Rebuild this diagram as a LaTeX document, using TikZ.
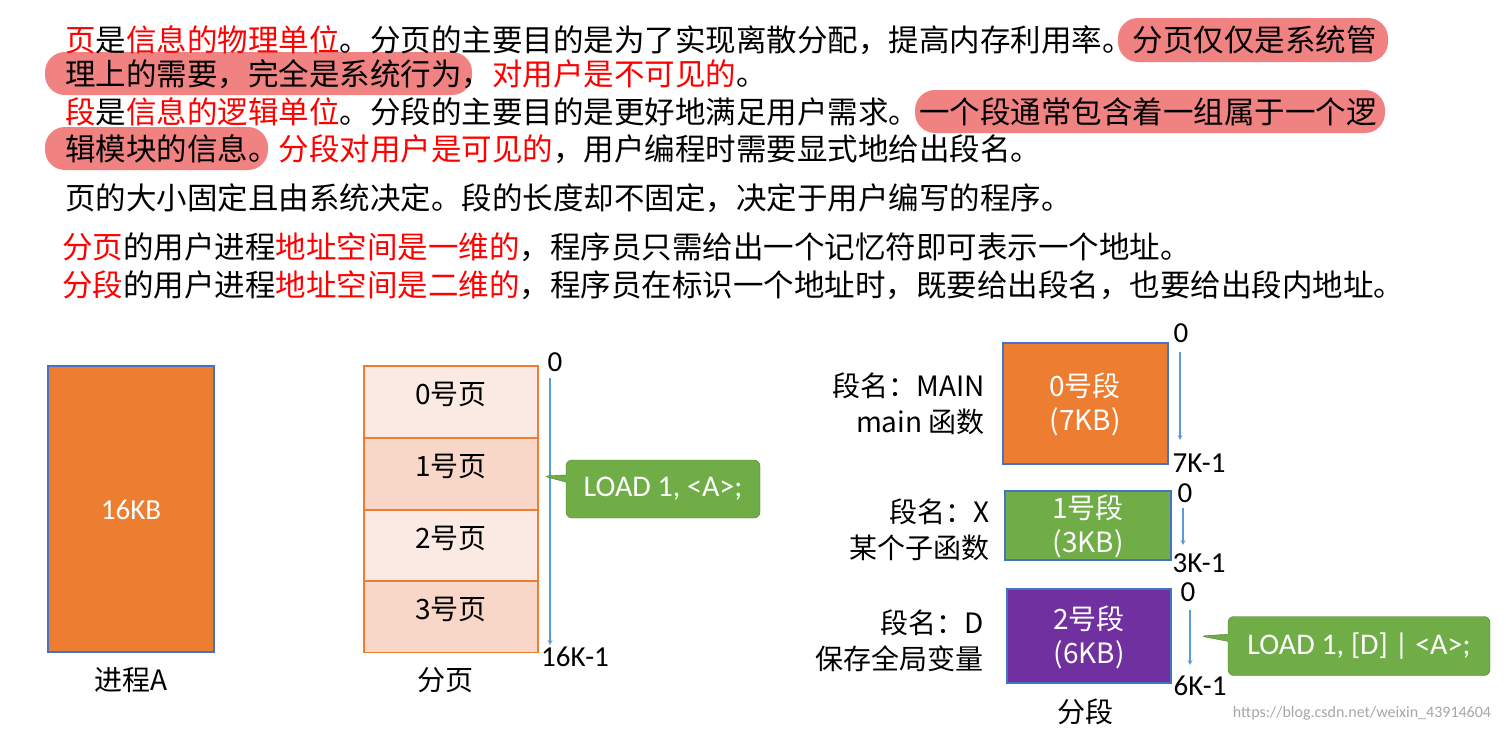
\documentclass[tikz,border=0pt]{standalone}
\usepackage{fontspec}
\setmainfont{Carlito}
\newfontfamily\cjk{Noto Sans CJK SC}
\usetikzlibrary{shapes.callouts}
\definecolor{hl}{RGB}{240,130,130}
\definecolor{rd}{RGB}{255,0,0}
\definecolor{org}{RGB}{237,125,49}
\definecolor{grn}{RGB}{112,173,71}
\definecolor{pur}{RGB}{112,48,160}
\definecolor{bl}{RGB}{91,155,213}
\definecolor{bd}{RGB}{68,114,196}
\newcommand{\R}[1]{\textcolor{rd}{#1}}
\begin{document}
\begin{tikzpicture}[x=1pt,y=-1pt,
  txt/.style={anchor=west,inner sep=0pt,font=\cjk\fontsize{30.5}{36}\selectfont},
  lab/.style={inner sep=0pt,font=\cjk\fontsize{28}{34}\selectfont},
  num/.style={inner sep=0pt,font=\fontsize{29}{34}\selectfont},
  hlb/.style={fill=hl,rounded corners=20pt},
  box/.style={draw=bd,line width=1.2pt},
  arr/.style={draw=bl,line width=1.2pt,-stealth},
  call/.style={rectangle callout,fill=grn,draw=grn!70!black,rounded corners=6pt,text=white,font=\fontsize{30}{34}\selectfont,inner xsep=10pt,inner ysep=0pt}]
\useasboundingbox (0,0) rectangle (1506,731);
\fill[hlb] (1118,18) rectangle (1388,62);
\fill[hlb] (45,52) rectangle (472,95);
\fill[hlb] (915,90) rectangle (1385,133);
\fill[hlb] (45,127) rectangle (268,170);
\node[txt] (l1) at (65,40) {\R{页}是\R{信息的物理单位}。分页的主要目的是为了实现离散分配，提高内存利用率。分页仅仅是系统管};
\node[txt] (l2) at (65,74) {理上的需要，完全是系统行为，\R{对用户是不可见的}。};
\node[txt] (l3) at (65,112) {\R{段}是\R{信息的逻辑单位}。分段的主要目的是更好地满足用户需求。一个段通常包含着一组属于一个逻};
\node[txt] (l4) at (65,149) {辑模块的信息。\R{分段对用户是可见的}，用户编程时需要显式地给出段名。};
\node[txt] (l5) at (65,198) {页的大小固定且由系统决定。段的长度却不固定，决定于用户编写的程序。};
\node[txt] (l6) at (62,247) {\R{分页}的用户进程\R{地址空间是一维的}，程序员只需给出一个记忆符即可表示一个地址。};
\node[txt] (l7) at (62,285) {\R{分段}的用户进程\R{地址空间是二维的}，程序员在标识一个地址时，既要给出段名，也要给出段内地址。};
% process A
\draw[box,fill=org] (48,366) rectangle (214,652);
\node[num,text=white] (a) at (131,510) {16KB};
\node[lab] (al) at (131,680) {进程A};
% paging
\foreach \i/\y/\c in {0/366/{251,234,228},1/438/{248,215,200},2/510/{251,234,228},3/581/{248,215,200}}{
  \definecolor{cc}{RGB}{\c}
  \draw[draw=org,fill=cc,line width=1.2pt] (364,\y) rectangle (538,\y+71.5);
  \node[lab] (p\i) at (451,\y+28) {\i 号页};
}
\node[num] (p0t) at (555,362) {0};
\node[num] (p0b) at (575,657) {16K-1};
\coordinate (pa) at (550,378); \coordinate (pb) at (550,645);
\draw[arr] (pa) -- (pb);
\node[lab] (pl) at (445,680) {分页};
\node[call,minimum width=194pt,minimum height=58pt,callout absolute pointer={(543,476)}] (c1) at (663,489) {LOAD 1, <A>;};
% segments
\draw[box,fill=org] (1003,343) rectangle (1168,464);
\node[lab,text=white,align=center] (s0) at (1085,404) {0号段\\(7KB)};
\node[lab,anchor=east] (s0a) at (985,386) {段名：MAIN};
\node[lab,anchor=east] (s0b) at (985,422) {main 函数};
\node[num] (s0t) at (1181,333) {0};
\node[num] (s0e) at (1199,463) {7K-1};
\coordinate (s0p) at (1180,352); \coordinate (s0q) at (1180,440);
\draw[arr] (s0p) -- (s0q);

\draw[box,fill=grn] (1005,491) rectangle (1171,560);
\node[lab,text=white,align=center] (s1) at (1088,526) {1号段\\(3KB)};
\node[lab,anchor=east] (s1a) at (990,512) {段名：X};
\node[lab,anchor=east] (s1b) at (990,548) {某个子函数};
\node[num] (s1t) at (1185,493) {0};
\node[num] (s1e) at (1199,563) {3K-1};
\coordinate (s1p) at (1183,508); \coordinate (s1q) at (1183,545);
\draw[arr] (s1p) -- (s1q);

\draw[box,fill=pur] (1007,589) rectangle (1171,683);
\node[lab,text=white,align=center] (s2) at (1089,637) {2号段\\(6KB)};
\node[lab,anchor=east] (s2a) at (984,623) {段名：D};
\node[lab,anchor=east] (s2b) at (984,659) {保存全局变量};
\node[num] (s2t) at (1188,592) {0};
\node[num] (s2e) at (1200,686) {6K-1};
\coordinate (s2p) at (1190,610); \coordinate (s2q) at (1190,665);
\draw[arr] (s2p) -- (s2q);
\node[lab] (sl) at (1085,712) {分段};
\node[call,minimum width=262pt,minimum height=59pt,callout absolute pointer={(1200,636)}] (c2) at (1359,646) {LOAD 1, [D] | <A>;};
\node[inner sep=0pt,text=black!35,font=\fontsize{16}{19}\selectfont] (wm) at (1362,713) {https://blog.csdn.net/weixin\_43914604};
\end{tikzpicture}
\end{document}
